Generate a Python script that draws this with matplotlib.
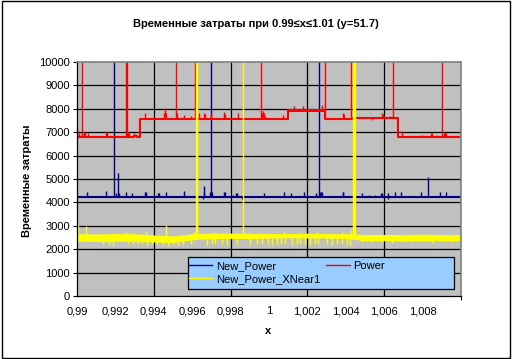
import numpy as np
import matplotlib
matplotlib.use('Agg')
import matplotlib.pyplot as plt
from matplotlib.patches import Rectangle
from matplotlib.lines import Line2D

plt.rcParams['font.family'] = ['Liberation Sans', 'DejaVu Sans']

# --- Power (red): step levels, a dense band and spikes
power_step_x = [0.99, 0.99297, 0.99315, 0.99330, 1.00101, 1.00292, 1.00430, 1.00673, 1.01]
power_step_y = [6800, 6850, 6790, 7580, 7930, 7580, 7620, 6800]
power_band_x = [1.00101, 1.00292]
power_band_lo = [7860, 7860]
power_band_hi = [8000, 8000]
power_spike_x = [0.99002, 0.99010, 0.99024, 0.99028, 0.99034, 0.99040, 0.99059, 0.99150,
                 0.99155, 0.99170, 0.99257, 0.99261, 0.99265, 0.99270, 0.99297, 0.99356,
                 0.99452, 0.99456, 0.99460, 0.99464, 0.99514, 0.99523, 0.99555, 0.99559,
                 0.99595, 0.99613, 0.99637, 0.99664, 0.99668, 0.99696, 0.99700, 0.99767,
                 0.99770, 0.99836, 0.99958, 0.99966, 0.99970, 0.99974, 0.99980, 1.00075,
                 1.00132, 1.00179, 1.00277, 1.00292, 1.00385, 1.00390, 1.00427, 1.00538,
                 1.00588, 1.00592, 1.00632, 1.00644, 1.00693, 1.00795, 1.00844, 1.00848,
                 1.00873, 1.00900, 1.00912, 1.00917, 1.00921, 1.00998]
power_spike_y = [7250, 6950, 10500, 7000, 6950, 7000, 6950, 7050,
                 7000, 6850, 10500, 10500, 7000, 6950, 6950, 7830,
                 7800, 7800, 8050, 7800, 10500, 7800, 7700, 7750,
                 7700, 10500, 7800, 7800, 7760, 7800, 7750, 7850,
                 7780, 7800, 10500, 7800, 7900, 7800, 7700, 7750,
                 8100, 8100, 8150, 10500, 7800, 7780, 10500, 7540,
                 7800, 7760, 7680, 10500, 7050, 6900, 6950, 6950,
                 6900, 10500, 6950, 6950, 6950, 6950]

# --- New_Power (navy): flat level with spikes
new_power_level = 4250
new_power_spike_x = [0.99050, 0.99151, 0.99194, 0.99205, 0.99216, 0.99220, 0.99255, 0.99286,
                     0.99355, 0.99359, 0.99423, 0.99427, 0.99462, 0.99555, 0.99559, 0.99656,
                     0.99660, 0.99664, 0.99695, 0.99698, 0.99702, 0.99765, 0.99769, 0.99810,
                     0.99829, 0.99833, 0.99858, 0.99973, 1.00078, 1.00113, 1.00181, 1.00247,
                     1.00262, 1.00268, 1.00273, 1.00278, 1.00383, 1.00387, 1.00486, 1.00521,
                     1.00552, 1.00585, 1.00589, 1.00618, 1.00622, 1.00656, 1.00690, 1.00793,
                     1.00826, 1.00890, 1.00924, 1.00998]
new_power_spike_y = [4450, 4500, 10500, 4420, 5250, 4400, 4450, 4400,
                     4450, 4450, 4400, 4400, 4450, 4380, 4500, 4150,
                     4450, 4720, 4450, 10500, 4450, 4450, 4430, 4300,
                     4400, 4400, 4150, 4400, 4450, 4400, 4430, 4400,
                     10500, 4450, 4450, 4450, 4450, 4450, 4420, 4330,
                     4300, 4420, 4400, 4400, 4150, 4450, 4430, 4450,
                     5100, 4430, 4430, 4450]

# --- New_Power_XNear1 (yellow): noisy band with spikes
xnear_x = [0.990, 0.991, 0.992, 0.993, 0.994, 0.995, 0.996, 0.997, 0.998, 0.999, 1.000,
           1.001, 1.002, 1.003, 1.004, 1.005, 1.006, 1.007, 1.008, 1.009, 1.010]
xnear_hi = [2660, 2650, 2670, 2660, 2610, 2570, 2660, 2690, 2690, 2680, 2670,
            2670, 2680, 2670, 2660, 2630, 2630, 2630, 2640, 2630, 2630]
xnear_lo = [2340, 2330, 2340, 2330, 2310, 2290, 2400, 2450, 2460, 2450, 2480,
            2490, 2480, 2480, 2460, 2360, 2360, 2350, 2360, 2360, 2360]
xnear_spike_x = [0.99007, 0.99049, 0.99137, 0.99168, 0.99189, 0.99190, 0.99257, 0.99267,
                 0.99287, 0.99293, 0.99316, 0.99337, 0.99359, 0.99366, 0.99389, 0.99418,
                 0.99446, 0.99462, 0.99472, 0.99502, 0.99528, 0.99554, 0.99594, 0.99610,
                 0.99620, 0.99623, 0.99626, 0.99675, 0.99701, 0.99710, 0.99719, 0.99753,
                 0.99760, 0.99780, 0.99832, 0.99863, 0.99900, 0.99901, 0.99936, 0.99962,
                 0.99996, 1.00017, 1.00040, 1.00063, 1.00080, 1.00083, 1.00118, 1.00144,
                 1.00161, 1.00188, 1.00214, 1.00240, 1.00250, 1.00257, 1.00301, 1.00327,
                 1.00352, 1.00379, 1.00380, 1.00405, 1.00422, 1.00425, 1.00440, 1.00443,
                 1.00446, 1.00483, 1.00535, 1.00587, 1.00639, 1.00691, 1.00743, 1.00795,
                 1.00847, 1.00899, 1.00951]
xnear_spike_y = [3050, 3000, 2220, 2230, 2200, 2700, 2750, 2220,
                 2700, 2240, 2210, 2230, 2750, 2200, 2230, 2210,
                 2200, 3050, 2150, 2220, 2200, 2230, 2210, 2750,
                 10500, 10500, 10500, 2200, 2220, 2750, 2210, 2230,
                 2700, 2200, 2220, 10500, 2200, 2700, 2230, 2210,
                 2220, 2200, 2230, 2210, 2720, 2220, 2200, 2230,
                 2210, 2220, 2200, 2230, 2720, 2210, 2220, 2200,
                 2230, 2210, 2750, 2220, 2200, 2800, 10500, 10500,
                 10500, 2300, 2290, 2300, 2280, 2300, 2290, 2300,
                 2280, 2300, 2290]

x_label_ticks = [0.990, 0.992, 0.994, 0.996, 0.998, 1.000, 1.002, 1.004, 1.006, 1.008]
x_tick_text = ['0,99', '0,992', '0,994', '0,996', '0,998', '1', '1,002', '1,004', '1,006', '1,008']
x_mark_ticks = [0.990, 0.994, 0.998, 1.002, 1.006, 1.010]
x_grid = [0.994, 0.998, 1.002, 1.006]
y_ticks = [0, 1000, 2000, 3000, 4000, 5000, 6000, 7000, 8000, 9000, 10000]

RED = '#FF0000'
NAVY = '#000080'
YEL = '#FFFF00'

fig = plt.figure(figsize=(5.14, 3.59), dpi=100)
fig.patch.set_facecolor('white')
ax = fig.add_axes([77 / 514, 1 - 296 / 359, 384 / 514, 234 / 359])
ax.set_facecolor('#C0C0C0')
ax.set_xlim(0.99, 1.01)
ax.set_ylim(0, 10000)

for y in y_ticks[1:-1]:
    ax.axhline(y, color='black', lw=0.9, zorder=1)
for x in x_grid:
    ax.axvline(x, color='black', lw=0.9, zorder=1)


def step_base(xs, sx, sy):
    idx = np.searchsorted(sx, xs, side='right') - 1
    idx = np.clip(idx, 0, len(sy) - 1)
    return np.array(sy)[idx]


# New_Power
ax.plot([0.99, 1.01], [new_power_level, new_power_level], color=NAVY, lw=1.5, zorder=2)
ax.vlines(new_power_spike_x, new_power_level, new_power_spike_y, color=NAVY, lw=1.0, zorder=2)

# Power
ax.step(power_step_x, power_step_y + [power_step_y[-1]], where='post', color=RED, lw=1.5, zorder=3)
ax.fill_between(power_band_x, power_band_lo, power_band_hi, color=RED, lw=0, zorder=3)
pbase = step_base(np.array(power_spike_x), power_step_x, power_step_y)
ax.vlines(power_spike_x, pbase, power_spike_y, color=RED, lw=1.0, zorder=3)

# New_Power_XNear1
ax.fill_between(xnear_x, xnear_lo, xnear_hi, color=YEL, lw=0, zorder=4)
ybase = np.interp(xnear_spike_x, xnear_x, [(a + b) / 2 for a, b in zip(xnear_lo, xnear_hi)])
ax.vlines(xnear_spike_x, ybase, xnear_spike_y, color=YEL, lw=1.0, zorder=4)

ax.set_yticks(y_ticks)
ax.set_yticklabels([str(v) for v in y_ticks], fontsize=8)
ax.set_xticks(x_label_ticks)
ax.set_xticklabels(x_tick_text, fontsize=8)
ax.set_xticks(x_mark_ticks, minor=True)
ax.tick_params(axis='x', which='major', length=0, pad=7.5)
ax.tick_params(axis='x', which='minor', length=3, width=0.8, direction='out')
ax.tick_params(axis='y', length=3, width=0.8, direction='out', pad=2)

for s in ['top', 'right']:
    ax.spines[s].set_color('#808080')
    ax.spines[s].set_linewidth(1.2)
for s in ['left', 'bottom']:
    ax.spines[s].set_color('black')
    ax.spines[s].set_linewidth(0.9)
for s in ax.spines.values():
    s.set_zorder(5)

fig.text(256 / 514, 1 - 24 / 359, 'Временные затраты при 0.99≤x≤1.01 (y=51.7)',
         ha='center', va='center', fontsize=8, fontweight='bold')
fig.text(27 / 514, 1 - 181 / 359, 'Временные затраты', rotation=90,
         ha='center', va='center', fontsize=8, fontweight='bold')
fig.text(268 / 514, 1 - 331 / 359, 'x', ha='center', va='center', fontsize=8, fontweight='bold')

# legend box
fig.patches.append(Rectangle((188 / 514, 1 - 289 / 359), 266 / 514, 32 / 359,
                             transform=fig.transFigure, facecolor='#99CCFF',
                             edgecolor='black', lw=0.9, zorder=6))
handles = [Line2D([], [], color=NAVY, lw=1.0),
           Line2D([], [], color=YEL, lw=1.0),
           Line2D([], [], color=RED, lw=1.0)]
labels = ['New_Power', 'New_Power_XNear1', 'Power']
leg = fig.legend(handles, labels, loc='upper left', bbox_to_anchor=(182 / 514, 1 - 254 / 359),
                 ncol=2, frameon=False, fontsize=8, borderpad=0.1, handlelength=2.1,
                 handletextpad=0.35, columnspacing=0.55, labelspacing=0.3)
leg.set_zorder(7)

# chart border
fig.patches.append(Rectangle((2 / 514, 1 - 358 / 359), 508 / 514, 357 / 359,
                             transform=fig.transFigure, fill=False, edgecolor='black', lw=1.0))

fig.savefig('out.png', dpi=100)
